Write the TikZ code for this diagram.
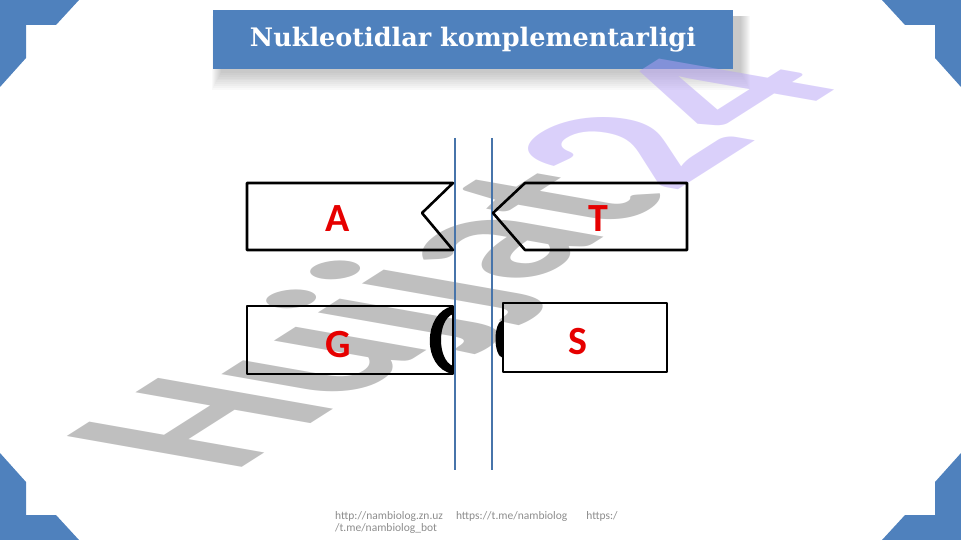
\documentclass[tikz,border=0pt]{standalone}
\usepackage{fontspec}
\setmainfont{Carlito}
\newfontfamily\titlefont{DejaVu Serif}
\usepackage{xcolor}
\definecolor{slideBlue}{RGB}{79, 129, 189}
\definecolor{letterRed}{RGB}{230, 0, 0}
\definecolor{footGray}{RGB}{140, 140, 140}
\definecolor{markGray}{RGB}{128, 128, 128}
\definecolor{markPurple}{RGB}{182, 162, 245}
\colorlet{corner fill}{slideBlue}
\colorlet{strand line}{slideBlue!90!black}
\tikzset{
    cornerpiece/.style={fill=corner fill},
    basebox/.style={draw=black, line width=2.6pt, line join=round},
    clasp/.style={fill=black},
    strand/.style={draw=strand line, line width=2pt},
    letter/.style={text=letterRed, font=\bfseries\fontsize{40}{40}\selectfont, inner sep=0pt},
    titlebox/.style={fill=slideBlue, text=white, inner sep=0pt, minimum width=520pt, minimum height=59pt},
    softshadow/.style={fill=black, fill opacity=.025},
    wmark/.style={font=\bfseries\fontsize{100}{100}\selectfont, inner sep=0pt, anchor=base west, text opacity=.5},
    footer/.style={text=footGray, font=\fontsize{11.5}{12}\selectfont, inner sep=0pt, align=left}
}
\def\cornerTL{(0,0) -- (79,0) -- (56,25) -- (26,25) -- (26,58) -- (0,87) -- cycle}
\def\boxA{(247,183) -- (453,183) -- (422,213) -- (453,250) -- (247,250) -- cycle}
\def\boxT{(525,183) -- (687,183) -- (687,250) -- (525,250) -- (493,213) -- cycle}

\begin{document}
\begin{tikzpicture}[x=1pt, y=-1pt]
    \useasboundingbox (0,0) rectangle (961,540);

    % Blue corner pieces
    \foreach \cx/\cy/\sx/\sy in {0/0/1/1, 961/0/-1/1, 0/540/1/-1, 961/540/-1/-1}
        \fill[cornerpiece, shift={(\cx,\cy)}, xscale=\sx, yscale=\sy] \cornerTL;

    % Title with its soft shadow
    \foreach \k in {1,...,10}
        \fill[softshadow] (222-\k,16) rectangle (740+\k,71+1.9*\k);
    \node[titlebox] (title) at (473,39.5) {\titlefont\bfseries\fontsize{25.5}{25.5}\selectfont Nukleotidlar komplementarligi};

    % Watermark
    \begin{scope}[shift={(232,474)}]
        \node[wmark, transform shape, cm={1.754,1.117,-2.699,0.476,(0,0)}] (stamp) at (0,0)
            {\textcolor{markGray}{Hujjat}\textcolor{markPurple}{24}};
    \end{scope}

    % The two strands
    \draw[strand] (455,138) -- (455,470);
    \draw[strand] (492,138) -- (492,470);

    % Bases
    \draw[basebox] \boxA;
    \draw[basebox] \boxT;
    \draw[basebox] (247,306) rectangle (453,374);
    \draw[basebox] (503,303) rectangle (667,372);
    \fill[clasp] (453,306) .. controls (423,312) and (421,368) .. (453,374) -- (453,366)
                 .. controls (437,360) and (437,320) .. (453,314) -- cycle;
    \fill[clasp] (503,320) .. controls (493,322) and (493,356) .. (503,358) -- cycle;

    \node[letter] (letA) at (338,219) {A};
    \node[letter] (letT) at (598,219) {T};
    \node[letter] (letG) at (338,345) {G};
    \node[letter] (letS) at (578,342) {S};

    % Links
    \node[footer, anchor=north west] (links) at (335,511)
        {http://nambiolog.zn.uz\hspace{13pt}https://t.me/nambiolog\hspace{19pt}https:/\\/t.me/nambiolog\_bot};
\end{tikzpicture}
\end{document}
